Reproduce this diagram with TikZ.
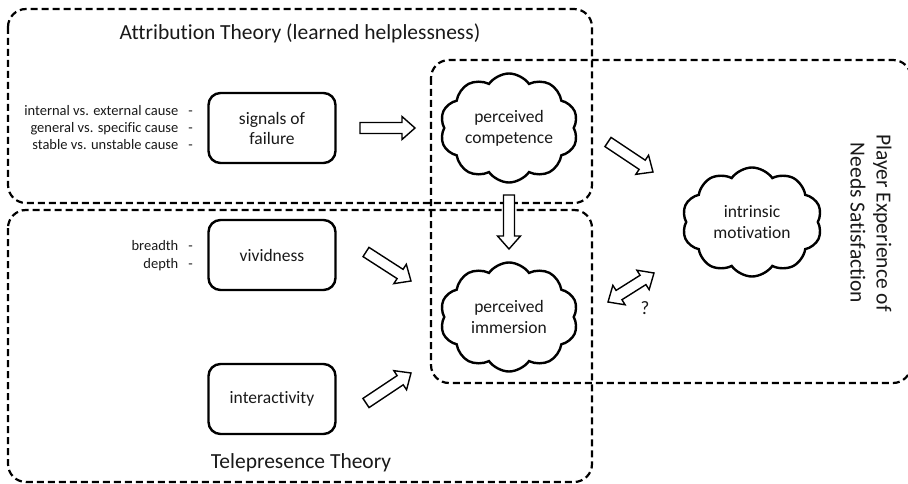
\documentclass[tikz,border=0pt]{standalone}
\usepackage{fontspec}
\setmainfont{Carlito}[Ligatures=NoCommon]
\usetikzlibrary{shapes.symbols,calc}

% hollow block arrow from a tail coordinate to a tip coordinate
\newcommand\blockarrowpath[2]{%
  \coordinate (ba-n) at ($(#2)!13pt!(#1)$);
  \draw[blockarrow]
    ($(#1)!5.5pt!90:(#2)$) -- ($(ba-n)!5.5pt!90:(#2)$) -- ($(ba-n)!11.5pt!90:(#2)$)
    -- (#2)
    -- ($(ba-n)!11.5pt!-90:(#2)$) -- ($(ba-n)!5.5pt!-90:(#2)$) -- ($(#1)!5.5pt!-90:(#2)$)
    -- cycle;
}
% hollow double-headed block arrow between two tip coordinates
\newcommand\doubleblockarrowpath[2]{%
  \coordinate (dba-a) at ($(#1)!13pt!(#2)$);
  \coordinate (dba-b) at ($(#2)!13pt!(#1)$);
  \draw[blockarrow]
    (#1) -- ($(dba-a)!11.5pt!90:(#2)$) -- ($(dba-a)!5.5pt!90:(#2)$)
    -- ($(dba-b)!5.5pt!-90:(#1)$) -- ($(dba-b)!11.5pt!-90:(#1)$)
    -- (#2)
    -- ($(dba-b)!11.5pt!90:(#1)$) -- ($(dba-b)!5.5pt!90:(#1)$)
    -- ($(dba-a)!5.5pt!-90:(#2)$) -- ($(dba-a)!11.5pt!-90:(#2)$)
    -- cycle;
}

\begin{document}
\begin{tikzpicture}[x=1pt,y=-1pt,
  every node/.style={text=black!90},
  region/.style={draw, line width=2.2pt, dash pattern=on 7pt off 4pt, rounded corners=18pt},
  factor/.style={draw, line width=2.4pt, rounded corners=12pt, minimum width=127pt,
    minimum height=70pt, align=center, inner sep=0pt, font=\fontsize{17.5}{20}\selectfont},
  belief/.style={cloud, cloud puffs=10, cloud puff arc=110, cloud ignores aspect, draw,
    line width=2.4pt, minimum width=138pt, minimum height=109pt, align=center,
    inner sep=0pt, font=\fontsize{17.5}{21}\selectfont},
  cue/.style={anchor=east, inner sep=0pt, text height=10pt, text depth=3pt,
    font=\fontsize{14.5}{17}\selectfont},
  heading/.style={align=center, font=\fontsize{21.5}{26}\selectfont},
  blockarrow/.style={draw, line width=1.4pt, fill=white, line join=miter}
]
\useasboundingbox (0,0) rectangle (908,484);

% theory regions
\draw[region] (8,9) rectangle (592,203);
\draw[region] (8,210) rectangle (592,482);
\draw[region] (431,60) rectangle (911,383);

% region titles
\node[heading] (attr) at (300,33) {Attribution Theory (learned helplessness)};
\node[heading] (tele) at (301,463) {Telepresence Theory};
\node[heading, rotate=-90] (pens) at (871,223) {Player Experience of\\Needs Satisfaction};

% factors
\node[factor] (fail) at (272,128) {signals of\\failure};
\node[factor] (vivid) at (272,255) {vividness};
\node[factor] (inter) at (272,399) {interactivity};

% causal dimensions
\node[cue] (c1) at (193,112) {internal vs. external cause\hspace{10pt}-};
\node[cue] (c2) at (193,129) {general vs. specific cause\hspace{10pt}-};
\node[cue] (c3) at (193,146) {stable vs. unstable cause\hspace{10pt}-};
\node[cue] (v1) at (193,247) {breadth\hspace{10pt}-};
\node[cue] (v2) at (193,265) {depth\hspace{10pt}-};

% perceptions
\node[belief] (comp) at (509,128) {perceived\\competence};
\node[belief] (imm) at (509,317) {perceived\\immersion};
\node[belief, minimum width=140pt] (intr) at (752,222) {intrinsic\\motivation};

% arrow ends
\coordinate (a1t) at (360,128); \coordinate (a1h) at (415,128);
\coordinate (a2t) at (509,195); \coordinate (a2h) at (509,249);
\coordinate (a3t) at (366,252); \coordinate (a3h) at (411,281);
\coordinate (a4t) at (366,403); \coordinate (a4h) at (411,373);
\coordinate (a5t) at (608,142); \coordinate (a5h) at (653,172);
\coordinate (a6a) at (608,302); \coordinate (a6b) at (654,273);

\blockarrowpath{a1t}{a1h}
\blockarrowpath{a2t}{a2h}
\blockarrowpath{a3t}{a3h}
\blockarrowpath{a4t}{a4h}
\blockarrowpath{a5t}{a5h}
\doubleblockarrowpath{a6a}{a6b}
\node[font=\fontsize{19}{22}\selectfont] (q) at (645,308) {?};
\end{tikzpicture}
\end{document}
